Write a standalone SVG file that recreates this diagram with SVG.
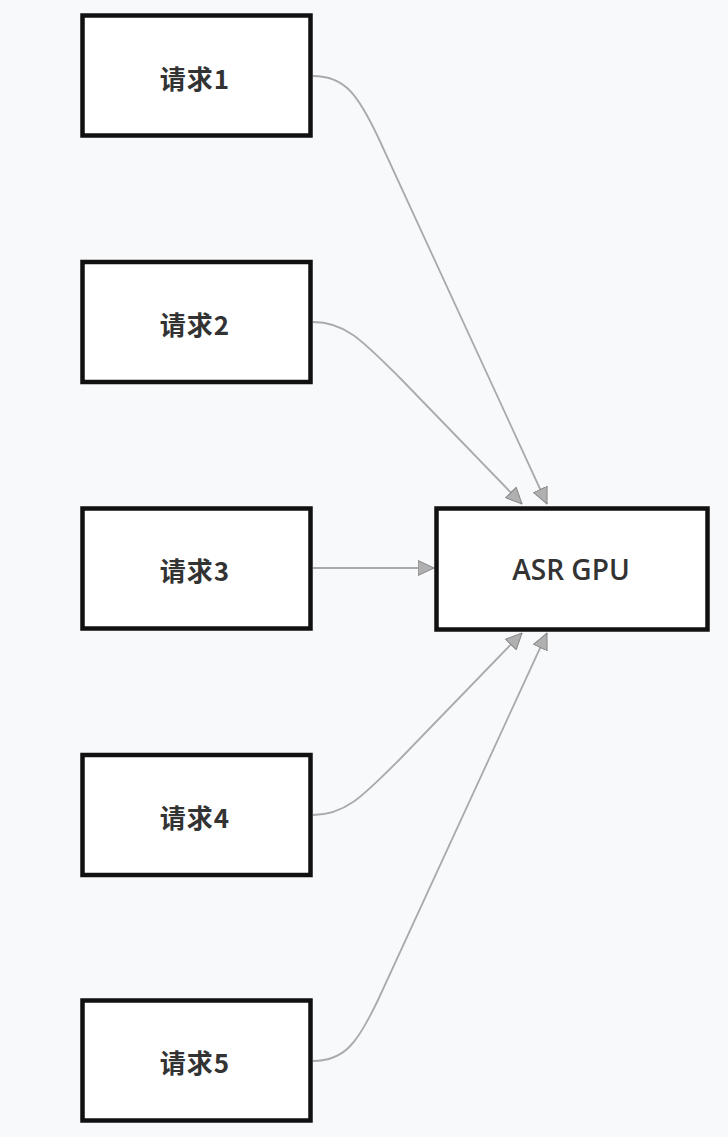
<svg xmlns="http://www.w3.org/2000/svg" width="728" height="1137" viewBox="0 0 728 1137">
<style>
.bg{fill:#f8f9fb}
.node rect{fill:#ffffff;stroke:#111111;stroke-width:4.5}
.lbl{font-family:"Noto Sans CJK SC","Noto Sans",sans-serif;font-size:26px;font-weight:bold;letter-spacing:1px;fill:#333333;text-anchor:middle;dominant-baseline:central}
.lbl2{font-family:"Open Sans","Noto Sans",sans-serif;font-size:28px;font-weight:600;fill:#333333;text-anchor:middle;dominant-baseline:central}
.edges path{fill:none;stroke:#aaaaaa;stroke-width:1.8}
</style>
<defs>
<marker id="arr" viewBox="0 0 17 16" refX="16.5" refY="8" markerWidth="17" markerHeight="16" markerUnits="userSpaceOnUse" orient="auto">
<path d="M0.5,0.5 L16.5,8 L0.5,15.5 Z" fill="#b0b0b0" stroke="#888888" stroke-width="1"/>
</marker>
</defs>
<rect class="bg" x="0" y="0" width="728" height="1137"/>
<g class="edges">
<path d="M313,76 C345,76 358,95 378,137 L547,504" marker-end="url(#arr)"/>
<path d="M313,322 C345,322 362,340 400,378 L522,504" marker-end="url(#arr)"/>
<path d="M313,568 L434,568" marker-end="url(#arr)"/>
<path d="M313,815 C345,815 362,797 400,759 L522,633" marker-end="url(#arr)"/>
<path d="M313,1061 C345,1061 358,1042 378,1000 L547,633" marker-end="url(#arr)"/>
</g>
<g id="n1" class="node"><rect x="82.5" y="15.5" width="228" height="120"/><text class="lbl" x="195" y="77">请求1</text></g>
<g id="n2" class="node"><rect x="82.5" y="262" width="228" height="120"/><text class="lbl" x="195" y="323">请求2</text></g>
<g id="n3" class="node"><rect x="82.5" y="508.5" width="228" height="120"/><text class="lbl" x="195" y="569.5">请求3</text></g>
<g id="n4" class="node"><rect x="82.5" y="755" width="228" height="120"/><text class="lbl" x="195" y="816">请求4</text></g>
<g id="n5" class="node"><rect x="82.5" y="1000.5" width="228" height="120"/><text class="lbl" x="195" y="1061.5">请求5</text></g>
<g id="asr" class="node"><rect x="436.5" y="508.5" width="271" height="121"/><text class="lbl2" x="571" y="569">ASR GPU</text></g>
</svg>
